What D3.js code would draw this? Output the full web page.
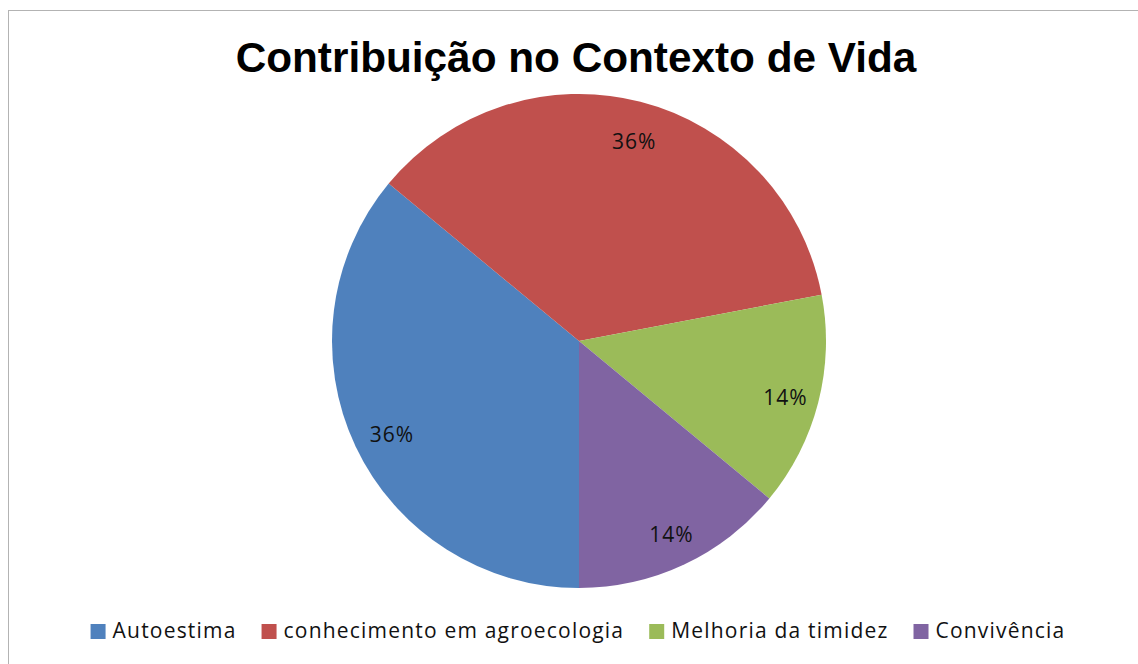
<!DOCTYPE html>
<html lang="pt">
<head>
    <meta charset="UTF-8">
    <title>Contribuição no Contexto de Vida</title>
    <script src="https://d3js.org/d3.v7.min.js"></script>
    <style>
        body { margin: 0; background: #fff; font-family: "Liberation Sans", Arial, sans-serif; }
    </style>
</head>
<body>
    <div id="chart"></div>
    <script>
        // Data
        const categories = ["Autoestima", "conhecimento em agroecologia", "Melhoria da timidez", "Convivência"];
        const values = [36, 36, 14, 14];
        const labels = ["36%", "36%", "14%", "14%"];
        const colors = ["#4F81BD", "#C0504D", "#9BBB59", "#8064A2"];

        const width = 1138, height = 664;
        const cx = 579, cy = 341, radius = 247;

        const svg = d3.select("#chart")
            .append("svg")
            .attr("width", width)
            .attr("height", height);

        // chart frame (only top and left edges visible)
        svg.append("rect")
            .attr("x", 8.5).attr("y", 10.5)
            .attr("width", width + 20).attr("height", height + 20)
            .attr("fill", "#fff")
            .attr("stroke", "#b3b3b3")
            .attr("stroke-width", 1);

        // title
        svg.append("text")
            .attr("x", 576).attr("y", 72)
            .attr("text-anchor", "middle")
            .attr("font-family", "Liberation Sans, Arial, sans-serif")
            .attr("font-weight", "bold")
            .attr("font-size", 42.3)
            .text("Contribuição no Contexto de Vida");

        // pie starts at 6 o'clock, clockwise
        const pie = d3.pie().sort(null).startAngle(Math.PI).endAngle(3 * Math.PI);
        const arcs = pie(values);
        const arc = d3.arc().innerRadius(0).outerRadius(radius);
        const labelArc = d3.arc().innerRadius(radius * 0.85).outerRadius(radius * 0.85);

        const g = svg.append("g").attr("transform", `translate(${cx},${cy})`);

        g.selectAll("path")
            .data(arcs)
            .enter()
            .append("path")
            .attr("d", arc)
            .attr("fill", (d, i) => colors[i]);

        g.selectAll("text")
            .data(arcs)
            .enter()
            .append("text")
            .attr("transform", d => {
                const [x, y] = labelArc.centroid(d);
                return `translate(${x + 3},${y + 4})`;
            })
            .attr("text-anchor", "middle")
            .attr("dy", "0.35em")
            .attr("font-family", "Open Sans, sans-serif")
            .attr("font-size", 21)
            .attr("letter-spacing", 1)
            .attr("fill", "#111")
            .text((d, i) => labels[i]);

        // legend
        const legend = svg.append("g");
        const legendY = 631;
        const items = legend.selectAll("g")
            .data(categories)
            .enter()
            .append("g");
        items.append("rect")
            .attr("width", 15).attr("height", 15)
            .attr("y", legendY - 7)
            .attr("fill", (d, i) => colors[i]);
        items.append("text")
            .attr("x", 22)
            .attr("y", legendY)
            .attr("dy", "0.35em")
            .attr("font-family", "Open Sans, sans-serif")
            .attr("font-size", 21)
            .attr("letter-spacing", 1.2)
            .attr("fill", "#111")
            .text(d => d);

        // lay items out left to right, centred
        let widths = [];
        items.each(function () {
            widths.push(this.getBBox().width);
        });
        const gap = 25;
        const total = d3.sum(widths) + gap * (widths.length - 1);
        let x = 578 - total / 2;
        items.attr("transform", (d, i) => {
            const t = `translate(${x},0)`;
            x += widths[i] + gap;
            return t;
        });
    </script>
</body>
</html>
